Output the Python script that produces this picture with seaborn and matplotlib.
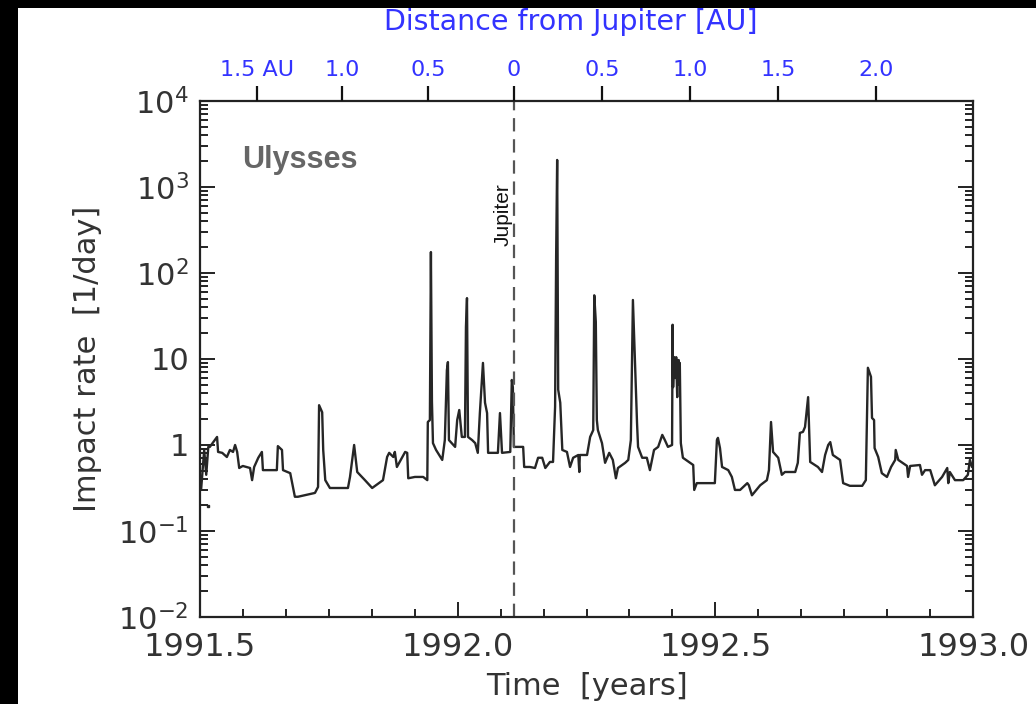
import numpy as np
import pandas as pd
import matplotlib
matplotlib.use("Agg")
import matplotlib.pyplot as plt
import seaborn as sns
from matplotlib.ticker import MultipleLocator, FixedLocator, FixedFormatter, LogLocator, NullFormatter
from matplotlib.patches import Rectangle

# ---------------- data ----------------
years = [
    1991.502, 1991.508, 1991.512, 1991.516, 1991.519, 1991.533, 1991.535, 1991.543, 1991.552, 1991.558,
    1991.564, 1991.568, 1991.572, 1991.576, 1991.583, 1991.597, 1991.601, 1991.605, 1991.613, 1991.620,
    1991.622, 1991.649, 1991.651, 1991.659, 1991.661, 1991.675, 1991.684, 1991.690, 1991.723, 1991.729,
    1991.731, 1991.737, 1991.739, 1991.743, 1991.752, 1991.787, 1991.791, 1991.799, 1991.805, 1991.820,
    1991.834, 1991.855, 1991.863, 1991.867, 1991.875, 1991.878, 1991.882, 1991.898, 1991.902, 1991.904,
    1991.917, 1991.933, 1991.941, 1991.942, 1991.946, 1991.948, 1991.950, 1991.952, 1991.958, 1991.970,
    1991.975, 1991.979, 1991.981, 1991.983, 1991.995, 1991.999, 1992.003, 1992.008, 1992.014, 1992.016,
    1992.018, 1992.020, 1992.028, 1992.034, 1992.039, 1992.043, 1992.049, 1992.053, 1992.057, 1992.059,
    1992.069, 1992.078, 1992.082, 1992.086, 1992.102, 1992.105, 1992.107, 1992.109, 1992.117, 1992.127,
    1992.129, 1992.140, 1992.150, 1992.156, 1992.164, 1992.170, 1992.179, 1992.185, 1992.189, 1992.191,
    1992.193, 1992.195, 1992.199, 1992.203, 1992.212, 1992.218, 1992.224, 1992.234, 1992.236, 1992.237,
    1992.251, 1992.257, 1992.263, 1992.265, 1992.268, 1992.270, 1992.272, 1992.280, 1992.286, 1992.294,
    1992.301, 1992.307, 1992.311, 1992.325, 1992.331, 1992.336, 1992.340, 1992.344, 1992.348, 1992.350,
    1992.358, 1992.367, 1992.373, 1992.381, 1992.389, 1992.397, 1992.402, 1992.408, 1992.416, 1992.417,
    1992.418, 1992.420, 1992.422, 1992.424, 1992.426, 1992.427, 1992.429, 1992.430, 1992.431, 1992.433,
    1992.437, 1992.451, 1992.457, 1992.459, 1992.464, 1992.499, 1992.503, 1992.505, 1992.509, 1992.513,
    1992.525, 1992.532, 1992.538, 1992.548, 1992.562, 1992.565, 1992.571, 1992.587, 1992.600, 1992.604,
    1992.608, 1992.612, 1992.622, 1992.629, 1992.635, 1992.655, 1992.660, 1992.664, 1992.670, 1992.674,
    1992.680, 1992.682, 1992.684, 1992.699, 1992.707, 1992.713, 1992.719, 1992.723, 1992.728, 1992.742,
    1992.748, 1992.761, 1992.785, 1992.792, 1992.794, 1992.796, 1992.802, 1992.804, 1992.808, 1992.809,
    1992.816, 1992.823, 1992.833, 1992.841, 1992.849, 1992.850, 1992.855, 1992.872, 1992.874, 1992.878,
    1992.897, 1992.901, 1992.907, 1992.917, 1992.926, 1992.940, 1992.950, 1992.952, 1992.955, 1992.965,
    1992.981, 1992.990, 1992.994, 1992.998,
]
rates = [
    0.30, 0.875, 0.45, 0.95, 0.95, 1.24, 0.83, 0.81, 0.725, 0.875,
    0.83, 1.00, 0.83, 0.54, 0.57, 0.54, 0.39, 0.555, 0.71, 0.83,
    0.51, 0.51, 0.97, 0.875, 0.51, 0.47, 0.25, 0.25, 0.277, 0.325,
    2.9, 2.4, 0.875, 0.39, 0.316, 0.316, 0.425, 1.00, 0.485, 0.39,
    0.316, 0.39, 0.725, 0.81, 0.725, 0.83, 0.555, 0.83, 0.81, 0.41,
    0.425, 0.425, 0.39, 1.85, 1.95, 175.0, 3.2, 1.05, 0.875, 0.67,
    1.14, 7.4, 9.2, 1.14, 0.95, 1.95, 2.55, 1.24, 1.24, 23.5,
    51.0, 1.24, 1.14, 1.05, 0.81, 2.35, 9.0, 3.1, 2.35, 0.81,
    0.81, 0.81, 2.35, 0.81, 0.83, 5.7, 4.7, 0.95, 0.95, 0.95,
    0.555, 0.555, 0.54, 0.71, 0.71, 0.54, 0.635, 0.635, 2.8, 153.0,
    2060.0, 4.4, 3.1, 0.875, 0.83, 0.555, 0.71, 0.765, 0.485, 0.765,
    0.765, 1.24, 1.49, 55.0, 27.0, 1.95, 1.49, 1.05, 0.62, 0.81,
    0.67, 0.41, 0.54, 0.62, 0.67, 1.14, 48.5, 9.0, 1.80, 0.95,
    0.71, 0.71, 0.51, 0.875, 0.95, 1.31, 1.14, 0.95, 1.00, 25.0,
    4.7, 10.5, 6.0, 10.5, 3.6, 9.7, 9.7, 5.0, 9.0, 1.05,
    0.71, 0.62, 0.585, 0.30, 0.36, 0.36, 1.14, 1.21, 0.92, 0.555,
    0.51, 0.425, 0.30, 0.30, 0.36, 0.34, 0.26, 0.34, 0.39, 0.51,
    1.85, 0.83, 0.71, 0.45, 0.485, 0.485, 0.62, 1.38, 1.42, 1.62,
    3.6, 1.49, 0.635, 0.555, 0.485, 0.765, 1.00, 1.08, 0.765, 0.67,
    0.36, 0.335, 0.335, 0.39, 1.80, 7.9, 6.2, 2.06, 1.95, 0.92,
    0.725, 0.47, 0.425, 0.555, 0.67, 0.875, 0.67, 0.57, 0.425, 0.57,
    0.585, 0.45, 0.51, 0.51, 0.34, 0.425, 0.54, 0.36, 0.485, 0.39,
    0.39, 0.45, 0.67, 0.555,
]
lone_year = [1991.516]
lone_rate = [0.195]

jupiter_year = 1992.109

dist_ticks = [1991.611, 1991.776, 1991.942, 1992.109, 1992.280, 1992.451, 1992.622, 1992.812]
dist_labels = ["1.5 AU", "1.0", "0.5", "0", "0.5", "1.0", "1.5", "2.0"]

ytick_vals = [1e-2, 1e-1, 1, 10, 1e2, 1e3, 1e4]
ytick_labels = [r"$10^{-2}$", r"$10^{-1}$", "1", "10", r"$10^{2}$", r"$10^{3}$", r"$10^{4}$"]

xtick_vals = [1991.5, 1992.0, 1992.5, 1993.0]
xtick_labels = ["1991.5", "1992.0", "1992.5", "1993.0"]

df = pd.DataFrame({"year": years, "rate": rates})

# ---------------- plot ----------------
sns.set_style("white")
plt.rcParams["font.family"] = ["DejaVu Sans"]
plt.rcParams["mathtext.fontset"] = "dejavusans"

fig = plt.figure(figsize=(10.36, 7.04), dpi=100, facecolor="white")
ax = fig.add_axes([0.1931, 0.1236, 0.7461, 0.7330])

# black frame strips (top & left)
fig.patches.append(Rectangle((0, 1 - 8 / 704), 1, 8 / 704, transform=fig.transFigure,
                             facecolor="black", edgecolor="none", zorder=-1))
fig.patches.append(Rectangle((0, 0), 18 / 1036, 1, transform=fig.transFigure,
                             facecolor="black", edgecolor="none", zorder=-1))

sns.lineplot(data=df, x="year", y="rate", ax=ax, sort=False, estimator=None,
             color="#262626", linewidth=1.7)
ax.plot(lone_year, lone_rate, marker="s", markersize=2, color="#262626", linestyle="none")

ax.set_yscale("log")
ax.set_xlim(1991.5, 1993.0)
ax.set_ylim(1e-2, 1e4)

ax.axvline(jupiter_year, color="#555555", linestyle=(0, (6, 3.5)), linewidth=1.6)
ax.text(jupiter_year - 0.003, 480, "Jupiter", rotation=90, ha="right", va="center",
        fontsize=15, color="#111111", family="Liberation Sans")
ax.text(0.055, 0.885, "Ulysses", transform=ax.transAxes, fontsize=22, fontweight="bold",
        color="#666666", family="Liberation Sans", ha="left", va="center")

# axes styling
for s in ax.spines.values():
    s.set_linewidth(1.6)
    s.set_color("#222222")

ax.xaxis.set_major_locator(FixedLocator(xtick_vals))
ax.xaxis.set_major_formatter(FixedFormatter(xtick_labels))
ax.xaxis.set_minor_locator(MultipleLocator(1 / 12))
ax.yaxis.set_major_locator(FixedLocator(ytick_vals))
ax.yaxis.set_major_formatter(FixedFormatter(ytick_labels))
ax.yaxis.set_minor_locator(LogLocator(base=10, subs=np.arange(2, 10)))
ax.yaxis.set_minor_formatter(NullFormatter())

ax.tick_params(which="both", direction="in", top=True, right=True, bottom=True, left=True,
               width=1.4, color="#222222")
ax.tick_params(which="major", length=11, labelsize=23, pad=11, labelcolor="#333333")
ax.tick_params(which="minor", length=6)
ax.tick_params(axis="y", which="major", labelsize=22, pad=8)

ax.set_xlabel("Time  [years]", fontsize=22, color="#333333", labelpad=6)
ax.set_ylabel("Impact rate  [1/day]", fontsize=22, color="#333333", labelpad=12)

# top distance axis
ax2 = ax.twiny()
ax2.set_xlim(ax.get_xlim())
ax2.xaxis.set_major_locator(FixedLocator(dist_ticks))
ax2.xaxis.set_major_formatter(FixedFormatter(dist_labels))
ax2.xaxis.set_minor_locator(FixedLocator([]))
ax2.tick_params(axis="x", which="major", direction="out", length=11, width=1.6,
                color="#111111", labelcolor="#3333ff", labelsize=16, pad=4)
for s in ax2.spines.values():
    s.set_visible(False)
fig.text(571 / 1036, 1 - 22 / 704, "Distance from Jupiter [AU]", fontsize=20.5,
         color="#3333ff", ha="center", va="center")

fig.savefig("out.png", dpi=100, facecolor="white")
